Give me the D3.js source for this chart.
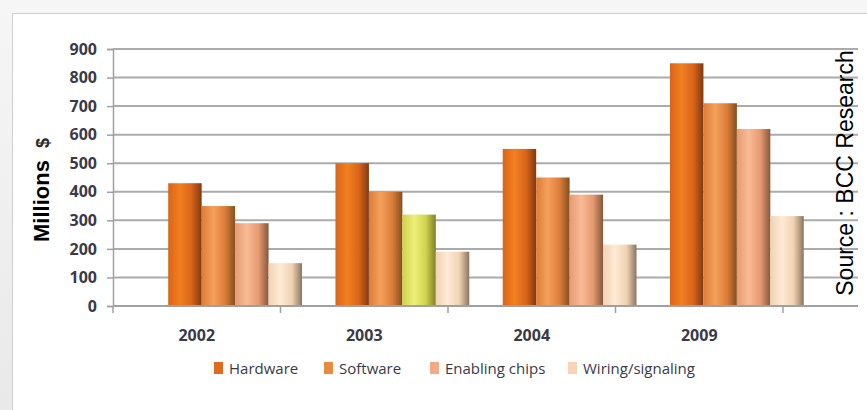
<!DOCTYPE html>
<html>
<head>
<meta charset="utf-8">
<script src="https://cdn.jsdelivr.net/npm/d3@7"></script>
<style>
  html, body { margin: 0; padding: 0; background: #efefef; }
  svg { display: block; }
</style>
</head>
<body>
<svg id="chart" width="867" height="410"></svg>
<script>
(function() {

  var years = ['2002', '2003', '2004', '2009'];
  var series = ['Hardware', 'Software', 'Enabling chips', 'Wiring/signaling'];
  var hardware = [430, 500, 550, 850];
  var software = [350, 400, 450, 710];
  var enablingChips = [290, 320, 390, 620];
  var wiring = [150, 190, 215, 315];
  var yTicks = [0, 100, 200, 300, 400, 500, 600, 700, 800, 900];

  var values = [hardware, software, enablingChips, wiring];

  // light, mid, dark stops of each cylinder
  var palette = [
    ['#d8641a', '#f2801f', '#7e3a12'],
    ['#dc7d3a', '#f5a05a', '#84501f'],
    ['#e59a72', '#f8bb96', '#86583b'],
    ['#f0d2b2', '#fdebd4', '#8a7563']
  ];
  var highlight = ['#cfd24a', '#eef07a', '#7f8128'];
  var legendColors = ['#e06a1e', '#ea8a3e', '#f2a985', '#f8d3b6'];

  var svg = d3.select('#chart');

  var bg = svg.append('defs');
  var shade = bg.append('linearGradient')
      .attr('id', 'pageShade')
      .attr('x1', 0).attr('y1', 0).attr('x2', 0).attr('y2', 1);
  shade.append('stop').attr('offset', '0%').attr('stop-color', '#f6f6f6');
  shade.append('stop').attr('offset', '100%').attr('stop-color', '#e9e9e9');

  function cylinder(id, c) {
    var g = bg.append('linearGradient')
        .attr('id', id)
        .attr('x1', 0).attr('y1', 0).attr('x2', 1).attr('y2', 0);
    g.append('stop').attr('offset', '0%').attr('stop-color', c[0]);
    g.append('stop').attr('offset', '35%').attr('stop-color', c[1]);
    g.append('stop').attr('offset', '70%').attr('stop-color', c[0]);
    g.append('stop').attr('offset', '100%').attr('stop-color', c[2]);
  }
  palette.forEach(function(c, i) { cylinder('cyl' + i, c); });
  cylinder('cylHi', highlight);

  svg.append('rect')
      .attr('width', 867).attr('height', 410)
      .attr('fill', 'url(#pageShade)');

  svg.append('rect')
      .attr('x', 12.5).attr('y', 13.5)
      .attr('width', 870).attr('height', 410)
      .attr('fill', '#ffffff')
      .attr('stroke', '#cfcfcf');

  var yScale = d3.scaleLinear()
      .domain([0, 900])
      .range([306, 49]);

  // category axis and the bar groups sit slightly apart in the picture
  var axisScale = d3.scaleBand()
      .domain(years)
      .range([113, 783]);

  var groupScale = d3.scaleBand()
      .domain(years)
      .range([151.5, 820.5])
      .paddingInner(0.2)
      .paddingOuter(0.1);

  var barScale = d3.scaleBand()
      .domain(d3.range(series.length))
      .range([0, groupScale.bandwidth()]);

  // grid
  svg.append('g')
      .selectAll('line')
      .data(yTicks.slice(1))
      .join('line')
        .attr('x1', 113).attr('x2', 858)
        .attr('y1', function(d) { return yScale(d); })
        .attr('y2', function(d) { return yScale(d); })
        .attr('stroke', '#ababab')
        .attr('stroke-width', 2);

  var yAxis = svg.append('g')
      .attr('transform', 'translate(113,0)')
      .call(d3.axisLeft(yScale).tickValues(yTicks).tickSize(6).tickPadding(10));
  yAxis.select('.domain').attr('stroke', '#a0a0a0').attr('stroke-width', 1.5);
  yAxis.selectAll('.tick line').attr('stroke', '#a0a0a0').attr('stroke-width', 1.5);
  yAxis.selectAll('.tick text')
      .attr('fill', '#3a3a48')
      .style('font', 'bold 16px "Open Sans", sans-serif');

  // bars
  var groups = svg.append('g')
      .selectAll('g')
      .data(years)
      .join('g')
        .attr('transform', function(d) { return 'translate(' + groupScale(d) + ',0)'; });

  groups.selectAll('rect')
      .data(function(year, yi) {
        return values.map(function(v, si) { return { year: year, s: si, value: v[yi] }; });
      })
      .join('rect')
        .attr('x', function(d) { return barScale(d.s); })
        .attr('width', barScale.bandwidth())
        .attr('y', function(d) { return yScale(d.value); })
        .attr('height', function(d) { return yScale(0) - yScale(d.value); })
        .attr('fill', function(d) {
          return (d.year === '2003' && d.s === 2) ? 'url(#cylHi)' : 'url(#cyl' + d.s + ')';
        });

  // base line
  svg.append('line')
      .attr('x1', 113).attr('x2', 858)
      .attr('y1', yScale(0)).attr('y2', yScale(0))
      .attr('stroke', '#a0a0a0')
      .attr('stroke-width', 2);

  var xAxis = svg.append('g')
      .attr('transform', 'translate(0,' + yScale(0) + ')');
  xAxis.selectAll('line')
      .data(years.concat(['end']))
      .join('line')
        .attr('x1', function(d, i) { return axisScale.range()[0] + i * axisScale.step(); })
        .attr('x2', function(d, i) { return axisScale.range()[0] + i * axisScale.step(); })
        .attr('y1', 0).attr('y2', 7)
        .attr('stroke', '#a0a0a0')
        .attr('stroke-width', 1.5);
  xAxis.selectAll('text')
      .data(years)
      .join('text')
        .attr('x', function(d) { return axisScale(d) + axisScale.bandwidth() / 2; })
        .attr('y', 35)
        .attr('text-anchor', 'middle')
        .attr('fill', '#3a3a48')
        .style('font', 'bold 16px "Open Sans", sans-serif')
        .text(function(d) { return d; });

  // y title
  var yTitle = svg.append('text')
      .attr('transform', 'translate(49,190) rotate(-90)')
      .attr('text-anchor', 'middle')
      .style('font', 'bold 22px "Liberation Sans", Arial, sans-serif')
      .attr('fill', '#000');
  yTitle.append('tspan').text('Millions ');
  yTitle.append('tspan').style('font-size', '18px').attr('dx', 6).attr('fill', '#2a2a2a').text('$');

  // source note
  svg.append('text')
      .attr('transform', 'translate(853,173) rotate(-90)')
      .attr('text-anchor', 'middle')
      .style('font', '23px "Liberation Sans", Arial, sans-serif')
      .attr('fill', '#000')
      .text('Source : BCC Research');

  // legend
  var legendX = [214, 324, 430, 568];
  var legend = svg.append('g')
      .selectAll('g')
      .data(series)
      .join('g')
        .attr('transform', function(d, i) { return 'translate(' + legendX[i] + ',362)'; });
  legend.append('rect')
      .attr('width', 9).attr('height', 12)
      .attr('fill', function(d, i) { return legendColors[i]; });
  legend.append('text')
      .attr('x', 15).attr('y', 12)
      .attr('fill', '#3a3a48')
      .style('font', '15px "Open Sans", sans-serif')
      .text(function(d) { return d; });

})();
</script>
</body>
</html>
